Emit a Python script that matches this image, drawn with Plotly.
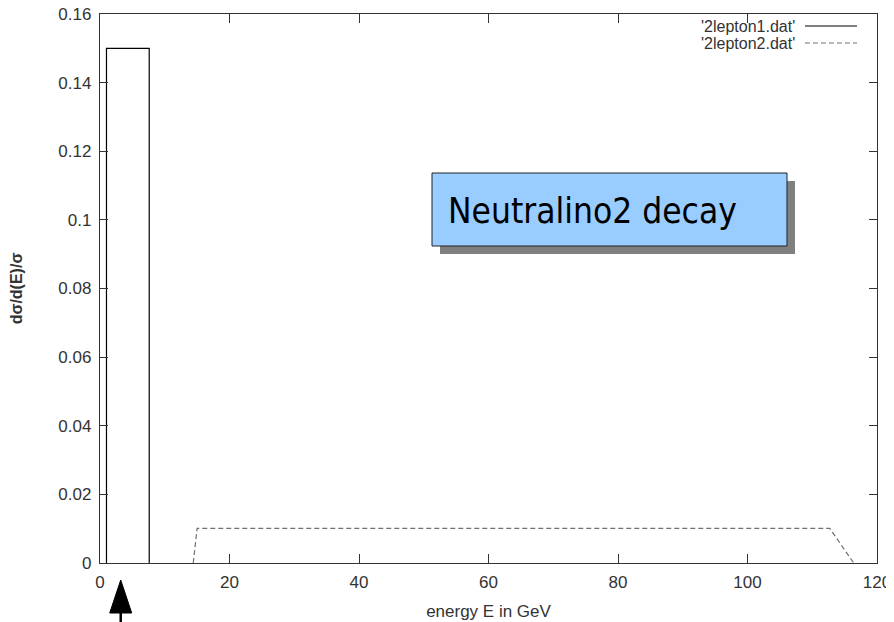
import plotly.graph_objects as go

# ---- data ----
s1_name = "'2lepton1.dat'"
s1_x = [1.0, 1.0, 7.6, 7.6]
s1_y = [0.0, 0.15, 0.15, 0.0]

s2_name = "'2lepton2.dat'"
s2_x = [14.4, 15.0, 112.7, 116.4]
s2_y = [0.0, 0.0101, 0.0101, 0.0]

x_ticks = [0, 20, 40, 60, 80, 100, 120]
y_ticks = [0, 0.02, 0.04, 0.06, 0.08, 0.1, 0.12, 0.14, 0.16]
y_tick_labels = ["0", "0.02", "0.04", "0.06", "0.08", "0.1", "0.12", "0.14", "0.16"]
x_range = [0, 120]
y_range = [0, 0.16]

box_text = "Neutralino2 decay"
arrow_x = 3.2
x_title = "energy E in GeV"
y_title = "dσ/d(E)/σ"

# ---- layout geometry (screen pixels; page body has an 8px margin) ----
BODY = 8
SW, SH = 894, 622
PL, PR, PT, PB = 100, 877, 14, 563          # plot area in screen pixels
PW, PH = PR - PL, PB - PT
W, H = SW - BODY, SH - BODY
ML, MT = PL - BODY, PT - BODY
MR, MB = SW - PR, H - (PB - BODY)


def px(xs):
    return (xs - PL) / PW


def py(ys):
    return (PB - ys) / PH


TXT = "#333333"
FONT = "Liberation Sans, Arial, sans-serif"

fig = go.Figure()
fig.add_trace(go.Scatter(x=s1_x, y=s1_y, mode="lines", name=s1_name,
                         line=dict(color="black", width=1.2), showlegend=False))
fig.add_trace(go.Scatter(x=s2_x, y=s2_y, mode="lines", name=s2_name,
                         line=dict(color="#707070", width=1.2, dash="5px,3px"),
                         showlegend=False))

shapes = []
annotations = []

# manual gnuplot-style key (text right, sample at right)
key_rows = [(s1_name, dict(color="black", width=1.2)),
            (s2_name, dict(color="#707070", width=1.2, dash="5px,3px"))]
for i, (name, ln) in enumerate(key_rows):
    yc = 26 + i * 17
    annotations.append(dict(x=px(797), y=py(yc), xref="paper", yref="paper",
                            text=name, showarrow=False, xanchor="right",
                            yanchor="middle",
                            font=dict(family=FONT, size=16, color=TXT)))
    shapes.append(dict(type="line", xref="paper", yref="paper",
                       x0=px(805), x1=px(857), y0=py(yc), y1=py(yc), line=ln))

# text box with shadow
bx0, bx1, by0, by1 = 432, 787, 173, 246
off = 8
shapes.append(dict(type="rect", xref="paper", yref="paper",
                   x0=px(bx0 + off), x1=px(bx1 + off), y0=py(by1 + off), y1=py(by0 + off),
                   fillcolor="#808080", line=dict(width=0), layer="above"))
shapes.append(dict(type="rect", xref="paper", yref="paper",
                   x0=px(bx0), x1=px(bx1), y0=py(by1), y1=py(by0),
                   fillcolor="#99CCFF", line=dict(color="#222222", width=1), layer="above"))
annotations.append(dict(x=px(446), y=py(211), xref="paper", yref="paper",
                        text=box_text, showarrow=False, xanchor="left", yanchor="middle",
                        font=dict(family="DejaVu Sans Condensed, DejaVu Sans, sans-serif",
                                  size=35, color="black")))

# arrow below the x axis
ax_p = (arrow_x - x_range[0]) / (x_range[1] - x_range[0])
hw = 11 / PW
tip, base, bot = -17 / PH, -50 / PH, -62 / PH
shapes.append(dict(type="path", xref="paper", yref="paper",
                   path=f"M{ax_p},{tip} L{ax_p - hw},{base} L{ax_p + hw},{base} Z",
                   fillcolor="black", line=dict(color="black", width=1)))
shapes.append(dict(type="line", xref="paper", yref="paper",
                   x0=ax_p, x1=ax_p, y0=base, y1=bot, line=dict(color="black", width=2.5)))

fig.update_layout(
    width=W, height=H,
    margin=dict(l=ML, r=MR, t=MT, b=MB, pad=0, autoexpand=False),
    paper_bgcolor="white", plot_bgcolor="white",
    shapes=shapes, annotations=annotations,
    showlegend=False,
    font=dict(family=FONT, size=17, color=TXT),
)
fig.update_xaxes(range=x_range, tickvals=x_ticks, ticks="inside", ticklen=9,
                 tickcolor="#333333", showline=True, linecolor="#333333", linewidth=1.3,
                 mirror="allticks", showgrid=False, zeroline=False, automargin=False,
                 tickfont=dict(size=17, color=TXT), ticklabelstandoff=3,
                 ticklabeloverflow="allow",
                 title=dict(text=x_title, font=dict(size=17, color=TXT), standoff=14))
fig.update_yaxes(range=y_range, tickvals=y_ticks, ticktext=y_tick_labels,
                 ticks="inside", ticklen=8,
                 tickcolor="#333333", showline=True, linecolor="#333333", linewidth=1.3,
                 mirror="allticks", showgrid=False, zeroline=False, automargin=False,
                 tickfont=dict(size=17, color=TXT), ticklabelstandoff=4,
                 ticklabeloverflow="allow",
                 title=dict(text="<b>" + y_title + "</b>", font=dict(size=16, color=TXT),
                            standoff=34))

fig.write_html("out.html")
